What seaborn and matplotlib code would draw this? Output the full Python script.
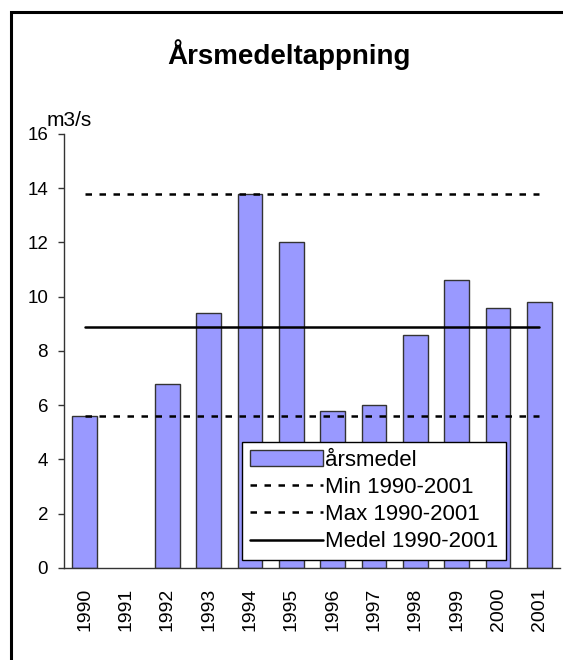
import matplotlib
matplotlib.use('Agg')
import matplotlib.pyplot as plt
import numpy as np
import pandas as pd
import seaborn as sns
from matplotlib.lines import Line2D
from matplotlib.patches import Patch, Rectangle

# Data
years = ['1990', '1991', '1992', '1993', '1994', '1995',
         '1996', '1997', '1998', '1999', '2000', '2001']
arsmedel = [5.6, np.nan, 6.8, 9.4, 13.8, 12.0, 5.8, 6.0, 8.6, 10.6, 9.6, 9.8]
min_value = 5.6
max_value = 13.8
medel_value = 8.9

df = pd.DataFrame({'year': years, 'value': arsmedel})

sns.set_style('white')
plt.rcParams['font.family'] = ['Liberation Sans', 'DejaVu Sans']
plt.rcParams['text.color'] = 'black'
plt.rcParams['xtick.color'] = 'black'
plt.rcParams['ytick.color'] = 'black'

fig = plt.figure(figsize=(5.63, 6.6), dpi=100)
ax = fig.add_axes([0.1137, 0.1394, 0.881, 0.6576])

bar_color = '#9999FF'
sns.barplot(data=df, x='year', y='value', order=years, color=bar_color,
            edgecolor='#333333', linewidth=1.0, width=0.6, saturation=1,
            ax=ax)

dotted = (0, (2.6, 3.0))
# Reference lines spanning first to last category
pos = np.arange(len(years))
ax.plot(pos, [min_value] * len(years), color='black', lw=1.8, linestyle=dotted)
ax.plot(pos, [max_value] * len(years), color='black', lw=1.8, linestyle=dotted)
ax.plot(pos, [medel_value] * len(years), color='black', lw=1.8)

ax.set_xlim(-0.5, len(years) - 0.5)
ax.set_ylim(0, 16)
ax.set_yticks(range(0, 17, 2))
ax.set_xlabel('')
ax.set_ylabel('')
ax.tick_params(axis='y', labelsize=13.5, length=4.5, width=1, color='#333333',
               direction='out', left=True, pad=7, labelcolor='black')
ax.tick_params(axis='x', labelsize=14, length=0, labelrotation=90, pad=14,
               labelcolor='black')

for side in ['top', 'right']:
    ax.spines[side].set_visible(False)
for side in ['left', 'bottom']:
    ax.spines[side].set_color('#333333')
    ax.spines[side].set_linewidth(1.0)

ax.text(-0.036, 1.018, 'm3/s', transform=ax.transAxes, fontsize=15,
        ha='left', va='baseline')

fig.text(0.513, (660 - 64) / 660, 'Årsmedeltappning', fontsize=20,
         fontweight='bold', ha='center', va='baseline')

handles = [
    Patch(facecolor=bar_color, edgecolor='#333333', linewidth=1.0),
    Line2D([], [], color='black', lw=1.8, linestyle=dotted),
    Line2D([], [], color='black', lw=1.8, linestyle=dotted),
    Line2D([], [], color='black', lw=1.8),
]
labels = ['årsmedel', 'Min 1990-2001', 'Max 1990-2001', 'Medel 1990-2001']
leg = ax.legend(handles, labels, loc='lower left',
                bbox_to_anchor=(0.359, 0.018), fontsize=16,
                frameon=True, fancybox=False, framealpha=1,
                edgecolor='black', handlelength=3.3, handletextpad=0.1,
                labelspacing=0.28, borderpad=0.35, borderaxespad=0)
leg.get_frame().set_linewidth(1.0)

# Outer chart frame
frame = Rectangle((11 / 563, -0.1), 1.0, 1 - 12 / 660 + 0.1,
                  transform=fig.transFigure, fill=False, edgecolor='black',
                  linewidth=2.2, clip_on=False)
fig.patches.append(frame)

fig.savefig('out.png', dpi=100)
